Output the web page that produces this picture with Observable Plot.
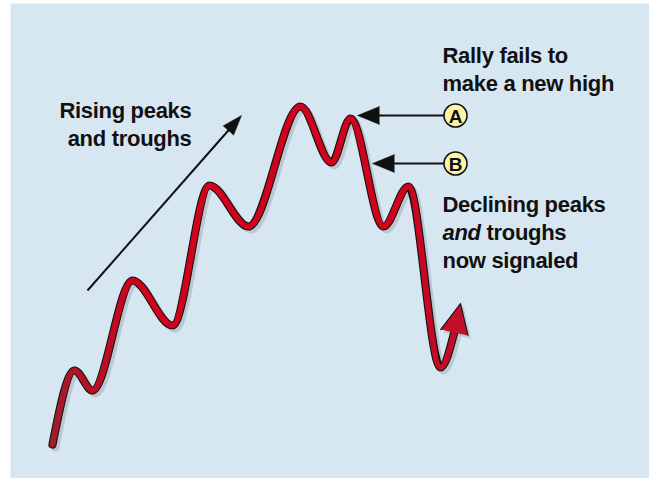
<!DOCTYPE html>
<html><head><meta charset="utf-8">
<script src="https://cdn.jsdelivr.net/npm/d3@7"></script>
<script src="https://cdn.jsdelivr.net/npm/@observablehq/plot@0.6"></script>
<style>html,body{margin:0;padding:0;background:#fff}</style>
</head><body><div id="chart"></div>
<script>
// Price path: peaks and troughs (day, price)
const day   = [4.4, 8.8, 12.4, 20.4, 28.4, 35.8, 43.6, 54, 60.2, 64, 70.6, 75.6, 82, 84.8];
const price = [6.8, 21.6, 17.6, 39.6, 30.6, 58.6, 50.4, 74.4, 63.2, 72, 50.4, 58.4, 22.2, 29.4];
// tip of the final bounce arrow
const tipDay = [86];
const tipPrice = [35];

// annotation arrows (from -> to)
const arrowFromDay   = [11.4, 85, 85];
const arrowFromPrice = [37.6, 72.6, 63];
const arrowToDay     = [42.2, 65.4, 68.4];
const arrowToPrice   = [72.6, 72.6, 63];

// circled markers
const markerLabel = ["A", "B"];
const markerDay   = [85, 85];
const markerPrice = [72.6, 63];

// text labels
const labelText  = ["Rising peaks\nand troughs", "Rally fails to\nmake a new high", "Declining peaks\nand troughs\nnow signaled"];
const labelDay   = [32.2, 82.4, 82.4];
const labelPrice = [66.6, 77.6, 42.2];

const W = 649, H = 478, ML = 30, MR = 19, MT = 3, MB = 0;
const XD = [0, 120], YD = [0, 95];
const k = (W - ML - MR) / (XD[1] - XD[0]); // px per unit (same on both axes)

const pts = day.map((d, i) => ({d, p: price[i]}));
const last = pts[pts.length - 1];
const ang = (dx, dy) => Math.atan2(dx, dy) * 180 / Math.PI;

const headRot = ang(tipDay[0] - last.d, tipPrice[0] - last.p);
const tipLenPx = Math.hypot(tipDay[0] - last.d, tipPrice[0] - last.p) * k + 1;

const arrows = arrowFromDay.map((fd, i) => {
  const dx = arrowToDay[i] - fd, dy = arrowToPrice[i] - arrowFromPrice[i];
  const L = Math.hypot(dx, dy);
  const head = i === 0 ? 20 : 22;
  const back = head * 0.75 / k;
  return {fd, fp: arrowFromPrice[i], td: arrowToDay[i], tp: arrowToPrice[i],
          bd: arrowToDay[i] - dx / L * back, bp: arrowToPrice[i] - dy / L * back,
          rot: ang(dx, dy)};
});

const font = "'Liberation Sans', Arial, Helvetica, sans-serif";
const red = "#d0021c";

const chart = Plot.plot({
  width: W, height: H,
  marginLeft: ML, marginRight: MR, marginTop: MT, marginBottom: MB,
  x: {domain: XD, axis: null},
  y: {domain: YD, axis: null},
  style: {background: "#fff", fontFamily: font, overflow: "visible"},
  marks: [
    Plot.frame({fill: "#d7e7f2", stroke: null, insetLeft: -20, insetRight: -19, insetTop: 0, insetBottom: 0}),
    // shadow
    Plot.line(pts, {x: "d", y: "p", curve: "monotone-x", stroke: "#a9b4bc", strokeOpacity: 0.6, strokeWidth: 8, dx: 3, dy: 3, strokeLinecap: "round", strokeLinejoin: "round"}),
    Plot.vector(tipDay, {x: d => d, y: (d, i) => tipPrice[i], rotate: headRot, length: tipLenPx, r: 14, shape: "spike", anchor: "end", fill: "#a9b4bc", fillOpacity: 0.6, stroke: null, dx: 3, dy: 3}),
    // outline
    Plot.line(pts, {x: "d", y: "p", curve: "monotone-x", stroke: "#111", strokeWidth: 8.2, strokeLinecap: "round", strokeLinejoin: "round"}),
    Plot.vector(tipDay, {x: d => d, y: (d, i) => tipPrice[i], rotate: headRot, length: tipLenPx, r: 14, shape: "spike", anchor: "end", fill: "#c20f2b", fillOpacity: 1, stroke: "#111", strokeWidth: 1.1, strokeLinejoin: "round"}),
    // red body
    Plot.line(pts, {x: "d", y: "p", curve: "monotone-x", stroke: "url(#redGrad)", strokeWidth: 6, strokeLinecap: "round", strokeLinejoin: "round"}),
    // annotation arrows
    Plot.link(arrows, {x1: "fd", y1: "fp", x2: "bd", y2: "bp", stroke: "#111", strokeWidth: 2}),
    Plot.vector(arrows.slice(0, 1), {x: "td", y: "tp", rotate: "rot", length: 20, r: 7, shape: "spike", anchor: "end", fill: "#111", fillOpacity: 1, stroke: "#111", strokeWidth: 0.5}),
    Plot.vector(arrows.slice(1), {x: "td", y: "tp", rotate: "rot", length: 22, r: 9, shape: "spike", anchor: "end", fill: "#111", fillOpacity: 1, stroke: "#111", strokeWidth: 0.5}),
    // circled markers
    Plot.dot(markerLabel, {x: (d, i) => markerDay[i], y: (d, i) => markerPrice[i], r: 11.5, fill: "#fdf5a4", stroke: "#111", strokeWidth: 1.6}),
    Plot.text(markerLabel, {x: (d, i) => markerDay[i], y: (d, i) => markerPrice[i], text: d => d, fontSize: 19, fontWeight: "bold", fill: "#111", dy: 1}),
    // labels
    Plot.text([0], {x: labelDay[0], y: labelPrice[0], text: [labelText[0]], textAnchor: "end", lineAnchor: "bottom", lineHeight: 1.27, fontSize: 22, fontWeight: "bold", fill: "#111", className: "lbl"}),
    Plot.text([1, 2], {x: i => labelDay[i], y: i => labelPrice[i], text: i => labelText[i], textAnchor: "start", lineAnchor: "bottom", lineHeight: 1.26, fontSize: 22, fontWeight: "bold", fill: "#111", className: "lbl"})
  ]
});

// gradient for the red line
const svg = d3.select(chart);
const defs = svg.insert("defs", ":first-child");
const g = defs.append("linearGradient").attr("id", "redGrad").attr("x1", "0").attr("x2", "1").attr("y1", "0").attr("y2", "0");
[[0, "#a31b2c"], [0.22, red], [0.85, red], [1, "#bd0e2a"]].forEach(([o, c]) => g.append("stop").attr("offset", o).attr("stop-color", c));

// tighter letter spacing on labels
svg.selectAll("g[font-size='22'] text, .lbl text").style("letter-spacing", "-0.3px");

// italic "and"
svg.selectAll("tspan").each(function() {
  if (this.textContent === "and troughs" && d3.select(this.parentNode).selectAll("tspan").size() === 3) {
    const t = d3.select(this);
    t.text(null);
    t.append("tspan").attr("font-style", "italic").text("and");
    t.append("tspan").text(" troughs");
  }
});

document.getElementById("chart").appendChild(chart);
</script>
</body></html>
